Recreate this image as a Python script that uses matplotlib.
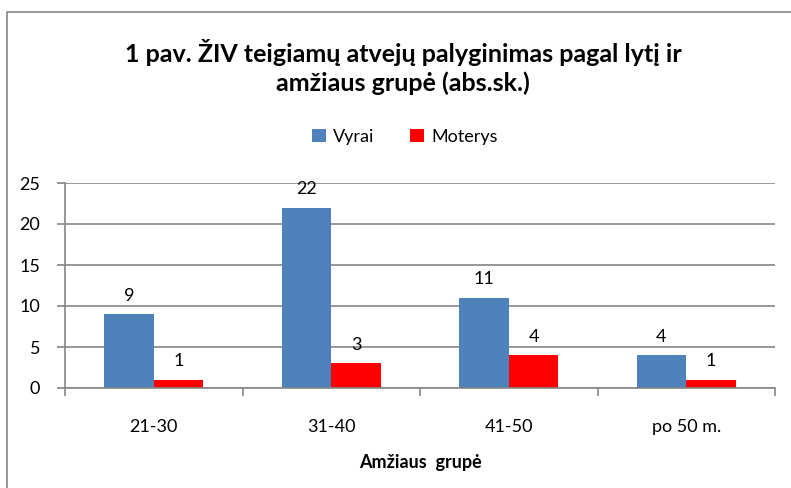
import matplotlib.pyplot as plt
import matplotlib.patches as mpatches
import numpy as np

categories = ['21-30', '31-40', '41-50', 'po 50 m.']
vyrai = [9, 22, 11, 4]
moterys = [1, 3, 4, 1]

plt.rcParams['font.family'] = ['Lato', 'DejaVu Sans']

W, H = 791, 488
fig = plt.figure(figsize=(W / 100, H / 100), dpi=100)

# outer chart-area border (cut off on right and bottom like the reference)
fig.patches.append(mpatches.Rectangle((7 / W, 0 - 0.01), 1.2, 1 - 12 / H + 0.01,
                                      transform=fig.transFigure, fill=False,
                                      edgecolor='#868686', linewidth=1.2))

ax = fig.add_axes([65 / W, 1 - 388 / H, 710 / W, 205 / H])

x = np.arange(len(categories))
w = 0.28
b1 = ax.bar(x - w / 2, vyrai, w, color='#4F81BD', label='Vyrai')
b2 = ax.bar(x + w / 2, moterys, w, color='#FF0000', label='Moterys')

for bars in (b1, b2):
    for r in bars:
        ax.text(r.get_x() + r.get_width() / 2, r.get_height() + 1.3, f'{int(r.get_height())}',
                ha='center', va='bottom', fontsize=13)

ax.set_xlim(-0.5, len(categories) - 0.5)
ax.set_ylim(0, 25)
ax.set_yticks(range(0, 26, 5))
ax.yaxis.grid(True, color='#868686', linewidth=1.2)
ax.set_axisbelow(True)

ax.set_xticks(x)
ax.set_xticklabels(categories, fontsize=13)
ax.set_xticks(np.arange(-0.5, len(categories)), minor=True)
ax.tick_params(axis='x', which='major', length=0, pad=22)
ax.tick_params(axis='x', which='minor', length=6, color='#868686', width=1.2)
ax.tick_params(axis='y', length=6, color='#868686', width=1.2, labelsize=13, pad=12)

for s in ('top', 'right'):
    ax.spines[s].set_visible(False)
for s in ('left', 'bottom'):
    ax.spines[s].set_color('#868686')
    ax.spines[s].set_linewidth(1.2)

ax.set_xlabel('Amžiaus  grupė', fontsize=13, fontweight='bold', labelpad=14)

fig.text(403 / W, 1 - 67 / H, '1 pav. ŽIV teigiamų atvejų palyginimas pagal lytį ir\namžiaus grupė (abs.sk.)',
         ha='center', va='center', fontsize=18, fontweight='bold', linespacing=1.3)

fig.legend(handles=[b1, b2], labels=['Vyrai', 'Moterys'], loc='center',
           bbox_to_anchor=(405 / W, 1 - 137 / H), ncol=2, frameon=False,
           fontsize=13, handlelength=0.75, handleheight=0.75, columnspacing=2.0,
           handletextpad=0.4)

fig.savefig('out.png', dpi=100)
